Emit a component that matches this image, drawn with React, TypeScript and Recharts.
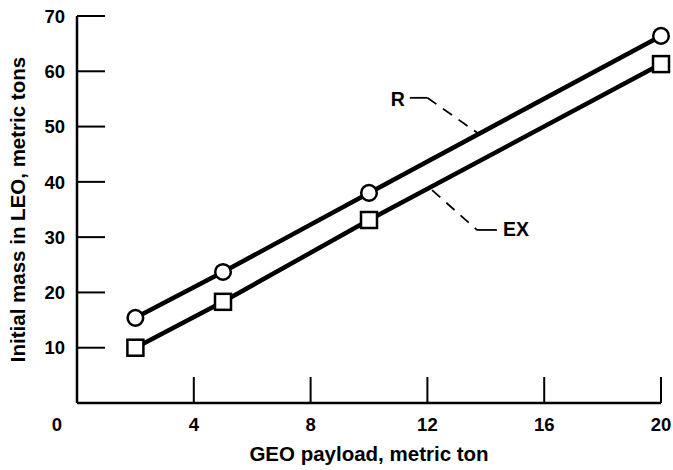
import { LineChart, Line, XAxis, YAxis, ReferenceLine, ReferenceDot, Label } from 'recharts';

const geoPayload = [2, 5, 10, 20];
const massR = [15.4, 23.7, 38, 66.4];
const massEX = [10, 18.3, 33.1, 61.3];

const xTicks = [0, 4, 8, 12, 16, 20];
const yTicks = [10, 20, 30, 40, 50, 60, 70];

// leader lines for the curve labels (data coordinates)
const rLeaderFlat = [{ x: 11.4, y: 55.2 }, { x: 12.0, y: 55.2 }];
const rLeaderDash = [{ x: 12.0, y: 55.2 }, { x: 13.73, y: 48.8 }];
const exLeaderDash = [{ x: 12.16, y: 38.5 }, { x: 13.7, y: 31.3 }];
const exLeaderFlat = [{ x: 13.7, y: 31.3 }, { x: 14.38, y: 31.3 }];

const data = geoPayload.map((g, i) => ({ geo: g, R: massR[i], EX: massEX[i] }));

const FONT = '"Liberation Sans", Arial, sans-serif';

function XTick(props: any) {
  const { x, y, payload } = props;
  const v = payload.value;
  return (
    <g>
      {v !== 0 && <line x1={x} y1={y - 21} x2={x} y2={y - 47} stroke="#000" strokeWidth={2} />}
      <text x={v === 0 ? x - 20 : x} y={y} dy="0.36em" textAnchor="middle" fontFamily={FONT} fontWeight="bold" fontSize={18.5} fill="#000">
        {v}
      </text>
    </g>
  );
}

function YTick(props: any) {
  const { x, y, payload } = props;
  return (
    <g>
      <line x1={x + 12} y1={y} x2={x + 40} y2={y} stroke="#000" strokeWidth={2} />
      <text x={x} y={y} dy="0.36em" textAnchor="end" fontFamily={FONT} fontWeight="bold" fontSize={18.5} fill="#000">
        {payload.value}
      </text>
    </g>
  );
}

function SquareDot(props: any) {
  const { cx, cy, index } = props;
  return <rect key={`sq-${index}`} x={cx - 8} y={cy - 8} width={16} height={16} fill="#fff" stroke="#000" strokeWidth={2.5} />;
}

export default function App() {
  return (
    <div style={{ position: 'absolute', left: 0, top: 0, background: '#fff' }}>
      <LineChart width={673} height={470} data={data} margin={{ top: 16, right: 12, bottom: 0, left: 0 }}>
        <XAxis
          dataKey="geo"
          type="number"
          domain={[0, 20]}
          ticks={xTicks}
          height={67}
          tickSize={0}
          tickMargin={21}
          tickLine={false}
          tick={<XTick />}
          axisLine={{ stroke: '#000', strokeWidth: 2.5 }}
        >
          <Label
            content={(p: any) => {
              const vb = p.viewBox;
              return (
                <text x={vb.x + vb.width / 2} y={vb.y + 50} dominantBaseline="central" textAnchor="middle" fontFamily={FONT} fontWeight="bold" fontSize={20.5} fill="#000">
                  GEO payload, metric ton
                </text>
              );
            }}
          />
        </XAxis>
        <YAxis
          type="number"
          domain={[0, 70]}
          ticks={yTicks}
          width={77}
          tickSize={0}
          tickMargin={12}
          tickLine={false}
          tick={<YTick />}
          axisLine={{ stroke: '#000', strokeWidth: 2.5 }}
        >
          <Label
            content={(p: any) => {
              const vb = p.viewBox;
              const cx = vb.x + 17;
              const cy = vb.y + vb.height / 2;
              return (
                <text x={cx} y={cy} transform={`rotate(-90 ${cx} ${cy})`} dominantBaseline="central" textAnchor="middle" fontFamily={FONT} fontWeight="bold" fontSize={20.5} fill="#000">
                  Initial mass in LEO, metric tons
                </text>
              );
            }}
          />
        </YAxis>

        <ReferenceLine segment={rLeaderFlat} stroke="#000" strokeWidth={1.8} />
        <ReferenceLine segment={rLeaderDash} stroke="#000" strokeWidth={1.8} strokeDasharray="11 8" />
        <ReferenceLine segment={exLeaderDash} stroke="#000" strokeWidth={1.8} strokeDasharray="11 8" />
        <ReferenceLine segment={exLeaderFlat} stroke="#000" strokeWidth={1.8} />
        <ReferenceDot
          x={rLeaderFlat[0].x}
          y={rLeaderFlat[0].y}
          r={0}
          stroke="none"
          fill="none"
          label={(p: any) => (
            <text x={p.viewBox.x - 5} y={p.viewBox.y + p.viewBox.height / 2 + 1} dominantBaseline="central" textAnchor="end" fontFamily={FONT} fontWeight="bold" fontSize={19.5} fill="#000">
              R
            </text>
          )}
        />
        <ReferenceDot
          x={exLeaderFlat[1].x}
          y={exLeaderFlat[1].y}
          r={0}
          stroke="none"
          fill="none"
          label={(p: any) => (
            <text x={p.viewBox.x + p.viewBox.width + 6} y={p.viewBox.y + p.viewBox.height / 2 - 1} dominantBaseline="central" textAnchor="start" fontFamily={FONT} fontWeight="bold" fontSize={19.5} fill="#000">
              EX
            </text>
          )}
        />

        <Line
          dataKey="R"
          stroke="#000"
          strokeWidth={4.5}
          isAnimationActive={false}
          dot={{ r: 7.8, fill: '#fff', stroke: '#000', strokeWidth: 2.5 }}
        />
        <Line
          dataKey="EX"
          stroke="#000"
          strokeWidth={4.5}
          isAnimationActive={false}
          dot={<SquareDot />}
        />
      </LineChart>
    </div>
  );
}
